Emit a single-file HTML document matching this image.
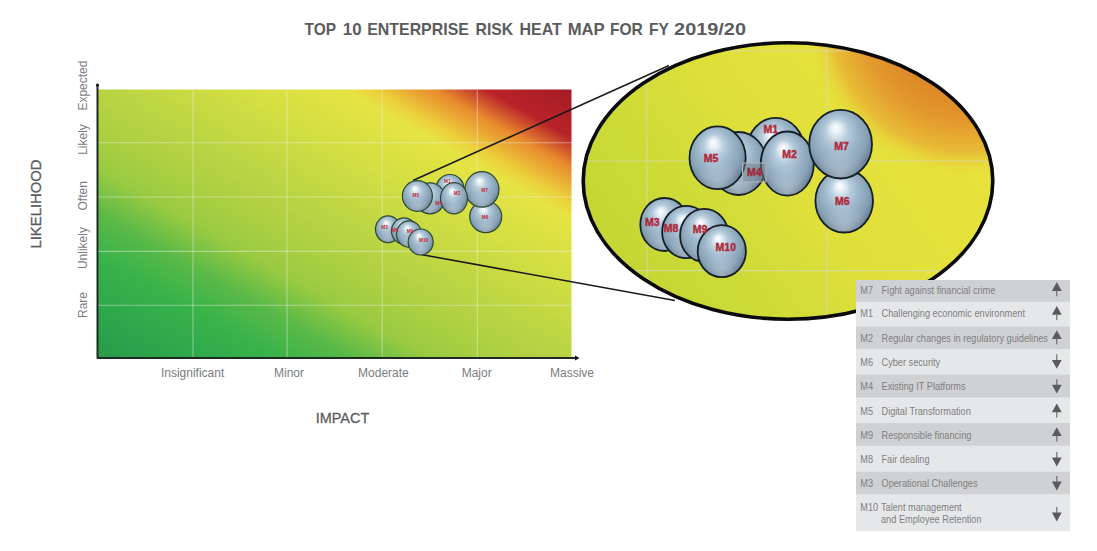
<!DOCTYPE html>
<html><head><meta charset="utf-8"><style>
html,body{margin:0;padding:0;background:#fff;}
svg{display:block;font-family:"Liberation Sans",sans-serif;}
</style></head><body>
<svg width="1097" height="551" viewBox="0 0 1097 551">
<defs>
<linearGradient id="cg" gradientUnits="userSpaceOnUse" x1="219.35" y1="427.02" x2="449.65" y2="20.48"><stop offset="0.0" stop-color="#279a4b"/><stop offset="0.1" stop-color="#2ea84b"/><stop offset="0.19" stop-color="#38b34a"/><stop offset="0.27" stop-color="#5ab947"/><stop offset="0.35" stop-color="#98ca42"/><stop offset="0.42" stop-color="#aacf41"/><stop offset="0.5" stop-color="#b8d443"/><stop offset="0.65" stop-color="#d4df42"/><stop offset="0.76" stop-color="#e6e444"/><stop offset="0.79" stop-color="#ecd03c"/><stop offset="0.855" stop-color="#e88a2d"/><stop offset="0.91" stop-color="#b8232a"/><stop offset="1.0" stop-color="#a51b24"/></linearGradient>
<linearGradient id="eg" gradientUnits="userSpaceOnUse" x1="620.00" y1="300.00" x2="930.00" y2="70.00"><stop offset="0" stop-color="#c2d534"/><stop offset="0.3" stop-color="#cedb37"/><stop offset="0.55" stop-color="#e0e03b"/><stop offset="1.0" stop-color="#e8e23c"/></linearGradient>
<radialGradient id="eo" gradientUnits="userSpaceOnUse" cx="966" cy="18" r="160">
<stop offset="0" stop-color="#d6781f"/>
<stop offset="0.45" stop-color="#dc8626"/>
<stop offset="0.66" stop-color="#e39a2d"/>
<stop offset="0.84" stop-color="#e8bc36"/>
<stop offset="1" stop-color="#e8e03c" stop-opacity="0"/>
</radialGradient>
<clipPath id="eclip"><ellipse cx="788.0" cy="181.0" rx="204.8" ry="138.2"/></clipPath>
<radialGradient id="sph" cx="0.48" cy="0.44" r="0.6" fx="0.42" fy="0.25">
<stop offset="0" stop-color="#ffffff"/>
<stop offset="0.12" stop-color="#e6eff6"/>
<stop offset="0.3" stop-color="#b6ccdc"/>
<stop offset="0.52" stop-color="#9cb5c9"/>
<stop offset="0.76" stop-color="#86a0b5"/>
<stop offset="0.9" stop-color="#6a8398"/>
<stop offset="1" stop-color="#40566a"/>
</radialGradient>
<radialGradient id="sphb" cx="0.5" cy="0.98" r="0.45">
<stop offset="0" stop-color="#ffffff" stop-opacity="0.35"/>
<stop offset="1" stop-color="#ffffff" stop-opacity="0"/>
</radialGradient>
</defs>
<rect x="97.5" y="89.5" width="474.0" height="268.5" fill="url(#cg)"/>
<line x1="193.0" y1="89.5" x2="193.0" y2="358.0" stroke="#eef0e6" stroke-opacity="0.45" stroke-width="1.1"/>
<line x1="287.0" y1="89.5" x2="287.0" y2="358.0" stroke="#eef0e6" stroke-opacity="0.45" stroke-width="1.1"/>
<line x1="382.2" y1="89.5" x2="382.2" y2="358.0" stroke="#eef0e6" stroke-opacity="0.45" stroke-width="1.1"/>
<line x1="477.3" y1="89.5" x2="477.3" y2="358.0" stroke="#eef0e6" stroke-opacity="0.45" stroke-width="1.1"/>
<line x1="97.5" y1="142.8" x2="571.5" y2="142.8" stroke="#eef0e6" stroke-opacity="0.45" stroke-width="1.1"/>
<line x1="97.5" y1="197.0" x2="571.5" y2="197.0" stroke="#eef0e6" stroke-opacity="0.45" stroke-width="1.1"/>
<line x1="97.5" y1="251.4" x2="571.5" y2="251.4" stroke="#eef0e6" stroke-opacity="0.45" stroke-width="1.1"/>
<line x1="97.5" y1="305.3" x2="571.5" y2="305.3" stroke="#eef0e6" stroke-opacity="0.45" stroke-width="1.1"/>
<line x1="97.5" y1="86" x2="97.5" y2="358.5" stroke="#1e2a22" stroke-width="2"/>
<circle cx="97.5" cy="85" r="1.6" fill="#111"/>
<line x1="97" y1="358" x2="577" y2="358" stroke="#1e2a22" stroke-width="2"/>
<path d="M575 355.5 L579.5 358 L575 360.5 Z" fill="#111"/>
<g clip-path="url(#eclip)"><rect x="570" y="30" width="440" height="300" fill="url(#eg)"/><rect x="570" y="30" width="440" height="300" fill="url(#eo)"/>
<line x1="647" y1="30" x2="647" y2="330" stroke="#d8d8c8" stroke-opacity="0.6" stroke-width="1.2"/>
<line x1="827" y1="30" x2="827" y2="330" stroke="#d8d8c8" stroke-opacity="0.6" stroke-width="1.2"/>
<line x1="570" y1="51" x2="1000" y2="51" stroke="#d8d8c8" stroke-opacity="0.6" stroke-width="1.2"/>
<line x1="570" y1="161" x2="1000" y2="161" stroke="#d8d8c8" stroke-opacity="0.6" stroke-width="1.2"/>
<line x1="570" y1="270.7" x2="1000" y2="270.7" stroke="#d8d8c8" stroke-opacity="0.6" stroke-width="1.2"/>
</g>
<ellipse cx="788.0" cy="181.0" rx="204.8" ry="138.2" fill="none" stroke="#0a0a0a" stroke-width="3.6"/>
<line x1="413" y1="180.5" x2="669" y2="65.5" stroke="#1a1a1a" stroke-width="1.5"/>
<line x1="421" y1="254.5" x2="675" y2="300.5" stroke="#1a1a1a" stroke-width="1.5"/>
<ellipse cx="485.7" cy="216.8" rx="16" ry="15.8" fill="url(#sph)"/><ellipse cx="485.7" cy="216.8" rx="16" ry="15.8" fill="url(#sphb)" stroke="#2c4a34" stroke-width="1.2"/>
<ellipse cx="482" cy="189.4" rx="17" ry="17.8" fill="url(#sph)"/><ellipse cx="482" cy="189.4" rx="17" ry="17.8" fill="url(#sphb)" stroke="#2c4a34" stroke-width="1.2"/>
<ellipse cx="450" cy="189" rx="14" ry="14.5" fill="url(#sph)"/><ellipse cx="450" cy="189" rx="14" ry="14.5" fill="url(#sphb)" stroke="#2c4a34" stroke-width="1.2"/>
<ellipse cx="430" cy="198.3" rx="15" ry="15.5" fill="url(#sph)"/><ellipse cx="430" cy="198.3" rx="15" ry="15.5" fill="url(#sphb)" stroke="#2c4a34" stroke-width="1.2"/>
<ellipse cx="417.4" cy="196" rx="15" ry="15.3" fill="url(#sph)"/><ellipse cx="417.4" cy="196" rx="15" ry="15.3" fill="url(#sphb)" stroke="#2c4a34" stroke-width="1.2"/>
<ellipse cx="454" cy="198.3" rx="13.5" ry="15.6" fill="url(#sph)"/><ellipse cx="454" cy="198.3" rx="13.5" ry="15.6" fill="url(#sphb)" stroke="#2c4a34" stroke-width="1.2"/>
<ellipse cx="388" cy="229.3" rx="12.5" ry="13.4" fill="url(#sph)"/><ellipse cx="388" cy="229.3" rx="12.5" ry="13.4" fill="url(#sphb)" stroke="#2c4a34" stroke-width="1.2"/>
<ellipse cx="404" cy="231" rx="12.5" ry="13.2" fill="url(#sph)"/><ellipse cx="404" cy="231" rx="12.5" ry="13.2" fill="url(#sphb)" stroke="#2c4a34" stroke-width="1.2"/>
<ellipse cx="409" cy="234" rx="12.5" ry="13.2" fill="url(#sph)"/><ellipse cx="409" cy="234" rx="12.5" ry="13.2" fill="url(#sphb)" stroke="#2c4a34" stroke-width="1.2"/>
<ellipse cx="420.7" cy="242" rx="12.5" ry="13" fill="url(#sph)"/><ellipse cx="420.7" cy="242" rx="12.5" ry="13" fill="url(#sphb)" stroke="#2c4a34" stroke-width="1.2"/>
<text x="415.8" y="197.29999999999998" font-size="4.8" font-weight="bold" fill="#c0283a" text-anchor="middle">M5</text>
<text x="447.3" y="182.7" font-size="4.8" font-weight="bold" fill="#c0283a" text-anchor="middle">M1</text>
<text x="457.2" y="195.1" font-size="4.8" font-weight="bold" fill="#c0283a" text-anchor="middle">M2</text>
<text x="484.6" y="191.79999999999998" font-size="4.8" font-weight="bold" fill="#c0283a" text-anchor="middle">M7</text>
<text x="485.1" y="218.6" font-size="4.8" font-weight="bold" fill="#c0283a" text-anchor="middle">M6</text>
<text x="438.6" y="204.7" font-size="4.8" font-weight="bold" fill="#c0283a" text-anchor="middle">M4</text>
<text x="384.7" y="229.39999999999998" font-size="4.8" font-weight="bold" fill="#c0283a" text-anchor="middle">M3</text>
<text x="394.7" y="232.1" font-size="4.8" font-weight="bold" fill="#c0283a" text-anchor="middle">M8</text>
<text x="410" y="232.5" font-size="4.8" font-weight="bold" fill="#c0283a" text-anchor="middle">M9</text>
<text x="423.6" y="241.7" font-size="4.8" font-weight="bold" fill="#c0283a" text-anchor="middle">M10</text>
<ellipse cx="775.6" cy="149.5" rx="28.4" ry="31.6" fill="url(#sph)"/><ellipse cx="775.6" cy="149.5" rx="28.4" ry="31.6" fill="url(#sphb)" stroke="#141f26" stroke-width="1.8"/>
<ellipse cx="738.5" cy="163.5" rx="28.1" ry="31.5" fill="url(#sph)"/><ellipse cx="738.5" cy="163.5" rx="28.1" ry="31.5" fill="url(#sphb)" stroke="#141f26" stroke-width="1.8"/>
<ellipse cx="717.6" cy="157.8" rx="28.1" ry="31.4" fill="url(#sph)"/><ellipse cx="717.6" cy="157.8" rx="28.1" ry="31.4" fill="url(#sphb)" stroke="#141f26" stroke-width="1.8"/>
<ellipse cx="787.3" cy="163.6" rx="26.5" ry="32.1" fill="url(#sph)"/><ellipse cx="787.3" cy="163.6" rx="26.5" ry="32.1" fill="url(#sphb)" stroke="#141f26" stroke-width="1.8"/>
<ellipse cx="844.2" cy="201.0" rx="28.8" ry="31.5" fill="url(#sph)"/><ellipse cx="844.2" cy="201.0" rx="28.8" ry="31.5" fill="url(#sphb)" stroke="#141f26" stroke-width="1.8"/>
<ellipse cx="840.6" cy="144.2" rx="31.4" ry="34.3" fill="url(#sph)"/><ellipse cx="840.6" cy="144.2" rx="31.4" ry="34.3" fill="url(#sphb)" stroke="#141f26" stroke-width="1.8"/>
<ellipse cx="664.5" cy="224.5" rx="24.2" ry="26.5" fill="url(#sph)"/><ellipse cx="664.5" cy="224.5" rx="24.2" ry="26.5" fill="url(#sphb)" stroke="#141f26" stroke-width="1.8"/>
<ellipse cx="686.3" cy="232.0" rx="24.2" ry="26.2" fill="url(#sph)"/><ellipse cx="686.3" cy="232.0" rx="24.2" ry="26.2" fill="url(#sphb)" stroke="#141f26" stroke-width="1.8"/>
<ellipse cx="704.3" cy="235.4" rx="24.2" ry="26.5" fill="url(#sph)"/><ellipse cx="704.3" cy="235.4" rx="24.2" ry="26.5" fill="url(#sphb)" stroke="#141f26" stroke-width="1.8"/>
<ellipse cx="721.8" cy="251.2" rx="24.1" ry="26.0" fill="url(#sph)"/><ellipse cx="721.8" cy="251.2" rx="24.1" ry="26.0" fill="url(#sphb)" stroke="#141f26" stroke-width="1.8"/>
<text x="711" y="162.3" font-size="10.5" font-weight="bold" fill="#b02a3b" stroke="#b02a3b" stroke-width="0.45" text-anchor="middle">M5</text>
<text x="770.8" y="132.5" font-size="10.5" font-weight="bold" fill="#b02a3b" stroke="#b02a3b" stroke-width="0.45" text-anchor="middle">M1</text>
<text x="789.5" y="157.7" font-size="10.5" font-weight="bold" fill="#b02a3b" stroke="#b02a3b" stroke-width="0.45" text-anchor="middle">M2</text>
<text x="841.5" y="150.4" font-size="10.5" font-weight="bold" fill="#b02a3b" stroke="#b02a3b" stroke-width="0.45" text-anchor="middle">M7</text>
<text x="842.4" y="205" font-size="10.5" font-weight="bold" fill="#b02a3b" stroke="#b02a3b" stroke-width="0.45" text-anchor="middle">M6</text>
<text x="652.2" y="226.3" font-size="10.5" font-weight="bold" fill="#b02a3b" stroke="#b02a3b" stroke-width="0.45" text-anchor="middle">M3</text>
<text x="671" y="232.1" font-size="10.5" font-weight="bold" fill="#b02a3b" stroke="#b02a3b" stroke-width="0.45" text-anchor="middle">M8</text>
<text x="700" y="233" font-size="10.5" font-weight="bold" fill="#b02a3b" stroke="#b02a3b" stroke-width="0.45" text-anchor="middle">M9</text>
<text x="725.8" y="250.8" font-size="10.5" font-weight="bold" fill="#b02a3b" stroke="#b02a3b" stroke-width="0.45" text-anchor="middle">M10</text>
<rect x="742.5" y="163" width="23.5" height="19" fill="#76848e" fill-opacity="0.5" stroke="#b4b8bc" stroke-width="1"/>
<text x="754.3" y="176.3" font-size="10.5" font-weight="bold" fill="#a0283a" stroke="#a0283a" stroke-width="0.45" text-anchor="middle">M4</text>
<text x="304.6" y="35.2" font-size="17" font-weight="bold" fill="#5b5c5e" textLength="31.5" lengthAdjust="spacingAndGlyphs">TOP</text>
<text x="342.8" y="35.2" font-size="17" font-weight="bold" fill="#5b5c5e" textLength="18.8" lengthAdjust="spacingAndGlyphs">10</text>
<text x="367.2" y="35.2" font-size="17" font-weight="bold" fill="#5b5c5e" textLength="101.7" lengthAdjust="spacingAndGlyphs">ENTERPRISE</text>
<text x="475.5" y="35.2" font-size="17" font-weight="bold" fill="#5b5c5e" textLength="37.699999999999996" lengthAdjust="spacingAndGlyphs">RISK</text>
<text x="519.4" y="35.2" font-size="17" font-weight="bold" fill="#5b5c5e" textLength="42.4" lengthAdjust="spacingAndGlyphs">HEAT</text>
<text x="567.7" y="35.2" font-size="17" font-weight="bold" fill="#5b5c5e" textLength="37.0" lengthAdjust="spacingAndGlyphs">MAP</text>
<text x="609.9" y="35.2" font-size="17" font-weight="bold" fill="#5b5c5e" textLength="32.9" lengthAdjust="spacingAndGlyphs">FOR</text>
<text x="649" y="35.2" font-size="17" font-weight="bold" fill="#5b5c5e" textLength="19.900000000000002" lengthAdjust="spacingAndGlyphs">FY</text>
<text x="674.1" y="35.2" font-size="17" font-weight="bold" fill="#5b5c5e" textLength="71.89999999999999" lengthAdjust="spacingAndGlyphs">2019/20</text>
<text transform="translate(40.8 204) rotate(-90)" font-size="15" fill="#5b5c5e" stroke="#5b5c5e" stroke-width="0.3" text-anchor="middle" textLength="89" lengthAdjust="spacingAndGlyphs">LIKELIHOOD</text>
<text x="342.5" y="422.8" font-size="15" fill="#5b5c5e" stroke="#5b5c5e" stroke-width="0.3" text-anchor="middle" textLength="53.5" lengthAdjust="spacingAndGlyphs">IMPACT</text>
<text x="192.6" y="377.2" font-size="12" fill="#7b7c7f" text-anchor="middle">Insignificant</text>
<text x="289" y="377.2" font-size="12" fill="#7b7c7f" text-anchor="middle">Minor</text>
<text x="383.4" y="377.2" font-size="12" fill="#7b7c7f" text-anchor="middle">Moderate</text>
<text x="476.7" y="377.2" font-size="12" fill="#7b7c7f" text-anchor="middle">Major</text>
<text x="572" y="377.2" font-size="12" fill="#7b7c7f" text-anchor="middle">Massive</text>
<text transform="translate(87.3 85.6) rotate(-90)" font-size="12" fill="#7b7c7f" text-anchor="middle">Expected</text>
<text transform="translate(87.3 139.5) rotate(-90)" font-size="12" fill="#7b7c7f" text-anchor="middle">Likely</text>
<text transform="translate(87.3 195.8) rotate(-90)" font-size="12" fill="#7b7c7f" text-anchor="middle">Often</text>
<text transform="translate(87.3 248.1) rotate(-90)" font-size="12" fill="#7b7c7f" text-anchor="middle">Unlikely</text>
<text transform="translate(87.3 305) rotate(-90)" font-size="12" fill="#7b7c7f" text-anchor="middle">Rare</text>
<rect x="856.0" y="280.0" width="214.0" height="251.29999999999995" fill="#e6e7e8"/>
<rect x="856.0" y="280.0" width="214.0" height="21.80000000000001" fill="#d0d1d3"/>
<rect x="856.0" y="326.6" width="214.0" height="22.399999999999977" fill="#d0d1d3"/>
<rect x="856.0" y="374.7" width="214.0" height="22.80000000000001" fill="#d0d1d3"/>
<rect x="856.0" y="423.0" width="214.0" height="22.80000000000001" fill="#d0d1d3"/>
<rect x="856.0" y="471.7" width="214.0" height="22.5" fill="#d0d1d3"/>
<text x="860.3" y="293.5" font-size="11" fill="#7e7f82" textLength="12.76" lengthAdjust="spacingAndGlyphs">M7</text>
<text x="881.5" y="293.5" font-size="11" fill="#7e7f82" textLength="113.84" lengthAdjust="spacingAndGlyphs">Fight against financial crime</text>
<path d="M1056.8 282.1 L1061.7 290.9 L1051.8999999999999 290.9 Z" fill="#5a5b5d"/>
<line x1="1056.8" y1="290.5" x2="1056.8" y2="296.3" stroke="#5a5b5d" stroke-width="1.0"/>
<text x="860.3" y="317.4" font-size="11" fill="#7e7f82" textLength="12.76" lengthAdjust="spacingAndGlyphs">M1</text>
<text x="881.5" y="317.4" font-size="11" fill="#7e7f82" textLength="143.48" lengthAdjust="spacingAndGlyphs">Challenging economic environment</text>
<path d="M1056.8 306.0 L1061.7 314.79999999999995 L1051.8999999999999 314.79999999999995 Z" fill="#5a5b5d"/>
<line x1="1056.8" y1="314.4" x2="1056.8" y2="320.2" stroke="#5a5b5d" stroke-width="1.0"/>
<text x="860.3" y="341.6" font-size="11" fill="#7e7f82" textLength="12.76" lengthAdjust="spacingAndGlyphs">M2</text>
<text x="881.5" y="341.6" font-size="11" fill="#7e7f82" textLength="166.47" lengthAdjust="spacingAndGlyphs">Regular changes in regulatory guidelines</text>
<path d="M1056.8 330.20000000000005 L1061.7 339.0 L1051.8999999999999 339.0 Z" fill="#5a5b5d"/>
<line x1="1056.8" y1="338.6" x2="1056.8" y2="344.40000000000003" stroke="#5a5b5d" stroke-width="1.0"/>
<text x="860.3" y="365.5" font-size="11" fill="#7e7f82" textLength="12.76" lengthAdjust="spacingAndGlyphs">M6</text>
<text x="881.5" y="365.5" font-size="11" fill="#7e7f82" textLength="58.70" lengthAdjust="spacingAndGlyphs">Cyber security</text>
<line x1="1056.8" y1="354.3" x2="1056.8" y2="360.5" stroke="#5a5b5d" stroke-width="1.0"/>
<path d="M1051.8999999999999 359.9 L1061.7 359.9 L1056.8 368.8 Z" fill="#5a5b5d"/>
<text x="860.3" y="390.3" font-size="11" fill="#7e7f82" textLength="12.76" lengthAdjust="spacingAndGlyphs">M4</text>
<text x="881.5" y="390.3" font-size="11" fill="#7e7f82" textLength="84.06" lengthAdjust="spacingAndGlyphs">Existing IT Platforms</text>
<line x1="1056.8" y1="379.1" x2="1056.8" y2="385.3" stroke="#5a5b5d" stroke-width="1.0"/>
<path d="M1051.8999999999999 384.7 L1061.7 384.7 L1056.8 393.6 Z" fill="#5a5b5d"/>
<text x="860.3" y="414.8" font-size="11" fill="#7e7f82" textLength="12.76" lengthAdjust="spacingAndGlyphs">M5</text>
<text x="881.5" y="414.8" font-size="11" fill="#7e7f82" textLength="89.34" lengthAdjust="spacingAndGlyphs">Digital Transformation</text>
<path d="M1056.8 403.40000000000003 L1061.7 412.2 L1051.8999999999999 412.2 Z" fill="#5a5b5d"/>
<line x1="1056.8" y1="411.8" x2="1056.8" y2="417.6" stroke="#5a5b5d" stroke-width="1.0"/>
<text x="860.3" y="438.7" font-size="11" fill="#7e7f82" textLength="12.76" lengthAdjust="spacingAndGlyphs">M9</text>
<text x="881.5" y="438.7" font-size="11" fill="#7e7f82" textLength="89.88" lengthAdjust="spacingAndGlyphs">Responsible financing</text>
<path d="M1056.8 427.3 L1061.7 436.09999999999997 L1051.8999999999999 436.09999999999997 Z" fill="#5a5b5d"/>
<line x1="1056.8" y1="435.7" x2="1056.8" y2="441.5" stroke="#5a5b5d" stroke-width="1.0"/>
<text x="860.3" y="463.1" font-size="11" fill="#7e7f82" textLength="12.76" lengthAdjust="spacingAndGlyphs">M8</text>
<text x="881.5" y="463.1" font-size="11" fill="#7e7f82" textLength="48.00" lengthAdjust="spacingAndGlyphs">Fair dealing</text>
<line x1="1056.8" y1="451.90000000000003" x2="1056.8" y2="458.1" stroke="#5a5b5d" stroke-width="1.0"/>
<path d="M1051.8999999999999 457.5 L1061.7 457.5 L1056.8 466.40000000000003 Z" fill="#5a5b5d"/>
<text x="860.3" y="487.2" font-size="11" fill="#7e7f82" textLength="12.76" lengthAdjust="spacingAndGlyphs">M3</text>
<text x="881.5" y="487.2" font-size="11" fill="#7e7f82" textLength="96.00" lengthAdjust="spacingAndGlyphs">Operational Challenges</text>
<line x1="1056.8" y1="476.0" x2="1056.8" y2="482.2" stroke="#5a5b5d" stroke-width="1.0"/>
<path d="M1051.8999999999999 481.59999999999997 L1061.7 481.59999999999997 L1056.8 490.5 Z" fill="#5a5b5d"/>
<text x="860.3" y="511.4" font-size="11" fill="#7e7f82" textLength="17.88" lengthAdjust="spacingAndGlyphs">M10</text>
<text x="881.0" y="511.4" font-size="11" fill="#7e7f82" textLength="80.68" lengthAdjust="spacingAndGlyphs">Talent management</text>
<text x="881.0" y="523.3" font-size="11" fill="#7e7f82" textLength="100.59" lengthAdjust="spacingAndGlyphs">and Employee Retention</text>
<line x1="1056.8" y1="506.99999999999994" x2="1056.8" y2="513.1999999999999" stroke="#5a5b5d" stroke-width="1.0"/>
<path d="M1051.8999999999999 512.5999999999999 L1061.7 512.5999999999999 L1056.8 521.4999999999999 Z" fill="#5a5b5d"/>
</svg>
</body></html>
